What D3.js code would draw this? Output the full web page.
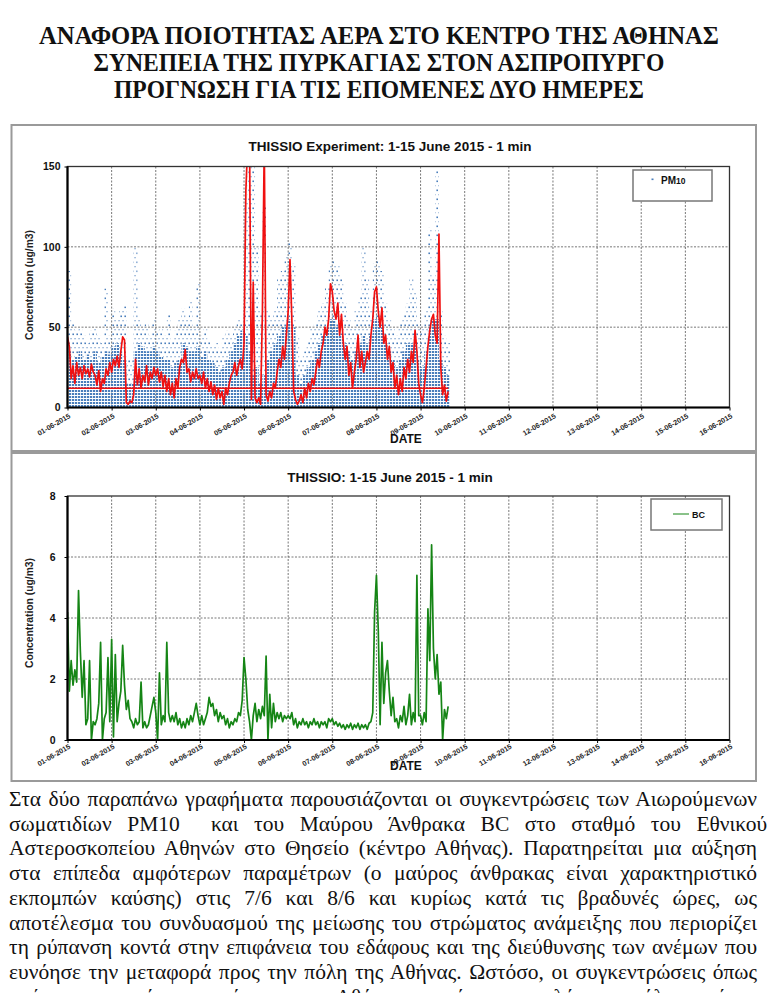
<!DOCTYPE html>
<html><head><meta charset="utf-8">
<script src="https://cdn.jsdelivr.net/npm/d3@7"></script>
<style>
body{margin:0;background:#fff}svg{display:block}
</style>
</head><body><svg id="c" width="770" height="993"></svg>
<script>
// ---------------- DATA ----------------
const titleLines = [
  "ΑΝΑΦΟΡΑ ΠΟΙΟΤΗΤΑΣ ΑΕΡΑ ΣΤΟ ΚΕΝΤΡΟ ΤΗΣ ΑΘΗΝΑΣ",
  "ΣΥΝΕΠΕΙΑ ΤΗΣ ΠΥΡΚΑΓΙΑΣ ΣΤΟΝ ΑΣΠΡΟΠΥΡΓΟ",
  "ΠΡΟΓΝΩΣΗ ΓΙΑ ΤΙΣ ΕΠΟΜΕΝΕΣ ΔΥΟ ΗΜΕΡΕΣ"
];
const paragraphLines = [
  "Στα δύο παραπάνω γραφήματα παρουσιάζονται οι συγκεντρώσεις των Αιωρούμενων",
  "σωματιδίων PM10\u00a0 και του Μαύρου Άνθρακα BC στο σταθμό του Εθνικού",
  "Αστεροσκοπείου Αθηνών στο Θησείο (κέντρο Αθήνας). Παρατηρείται μια αύξηση",
  "στα επίπεδα αμφότερων παραμέτρων (ο μαύρος άνθρακας είναι χαρακτηριστικό",
  "εκπομπών καύσης) στις 7/6 και 8/6 και κυρίως κατά τις βραδυνές ώρες, ως",
  "αποτέλεσμα του συνδυασμού της μείωσης του στρώματος ανάμειξης που περιορίζει",
  "τη ρύπανση κοντά στην επιφάνεια του εδάφους και της διεύθυνσης των ανέμων που",
  "ευνόησε την μεταφορά προς την πόλη της Αθήνας. Ωστόσο, οι συγκεντρώσεις όπως",
  "φαίνεται και από τα γραφήματα στην Αθήνα παραμένουν χαμηλά στις υπόλοιπες ώρες"
];
const chartTitles = ["THISSIO Experiment: 1-15 June 2015 - 1 min", "THISSIO: 1-15 June 2015 - 1 min"];
const yAxisTitle = "Concentration (ug/m3)";
const xAxisTitle = "DATE";
const dateLabels = ["01-06-2015","02-06-2015","03-06-2015","04-06-2015","05-06-2015","06-06-2015","07-06-2015","08-06-2015",
                    "09-06-2015","10-06-2015","11-06-2015","12-06-2015","13-06-2015","14-06-2015","15-06-2015","16-06-2015"];
const pm10Ticks = [0, 50, 100, 150];
const bcTicks = [0, 2, 4, 6, 8];

// PM10 smoothed (red), hourly from 01-06-2015 00:00
const pm10Smooth = [
  44,38,18,26,15,28,20,25,18,26,21,24,19,27,22,20,14,23,10,18,15,24,20,28,
  22,30,26,32,25,35,44,42,3,2,4,3,8,30,14,24,12,20,16,26,14,22,18,25,
  20,24,16,22,13,20,10,18,8,15,6,18,12,25,30,28,36,22,24,16,22,18,24,18,
  20,15,22,12,18,10,16,8,14,5,12,6,10,2,12,8,15,20,22,28,20,26,30,24,
  40,135,165,165,5,78,6,3,6,2,60,165,8,4,10,6,15,12,22,30,25,38,30,45,
  60,92,55,10,5,2,4,8,3,12,6,15,10,18,14,22,30,25,35,40,50,45,55,77,
  72,60,55,65,45,58,40,30,38,20,28,12,22,30,45,25,35,22,28,35,30,45,55,72,
  75,60,50,62,40,45,30,38,22,28,12,20,8,18,10,25,18,30,22,35,28,48,35,15,
  8,3,12,25,38,48,55,58,45,40,108,25,8,14,4,10
];
// PM10 1-min points (blue): per 2-hour bin, top of the dense cloud and highest scattered point
const pm10DenseTop = [
  35,30,32,35,30,33,30,35,28,32,35,33,
  38,40,35,30,15,15,35,40,38,35,35,38,
  35,32,30,30,25,28,30,40,38,35,35,38,
  32,35,30,28,25,22,25,30,35,40,45,48,
  45,35,20,25,15,20,30,35,40,45,50,50,
  55,50,20,15,20,25,30,35,40,45,50,55,
  55,50,45,40,35,30,35,40,45,40,45,55,
  55,50,40,35,30,25,30,35,40,40,45,30,
  25,35,50,55,55,30,25,20
];
const pm10MaxTop = [
  85,52,48,50,45,40,48,50,45,40,74,45,
  62,55,60,63,30,30,100,55,50,52,45,55,
  48,50,45,58,42,48,55,62,55,67,50,77,
  45,50,42,38,40,35,45,48,45,50,55,52,
  130,160,150,100,60,125,60,55,60,80,85,95,
  103,90,45,30,35,42,50,52,60,65,75,90,
  92,88,80,65,55,50,60,70,100,80,60,90,
  92,85,65,55,50,45,52,58,65,80,72,52,
  50,60,112,80,148,60,45,40
];
const pm10Reference = 12;
// BC (green), hourly
const bcHourly = [
  4.2,1.6,2.6,1.8,2.3,1.9,4.9,2.9,1.4,2.6,0.5,0.7,2.6,0.0,0.6,0.5,0.7,1.2,3.2,0.0,0.7,0.9,2.7,0.6,
  3.3,0.1,2.8,0.6,1.2,1.6,3.1,1.8,1.0,1.3,0.7,0.6,0.4,0.7,0.5,0.6,1.9,0.4,0.6,0.4,0.5,0.8,1.1,1.4,
  0.9,0.0,2.2,0.5,0.8,0.6,3.2,0.9,0.6,0.8,0.6,0.9,0.5,0.7,0.4,0.6,0.4,0.7,0.5,0.8,0.6,0.9,1.2,0.8,
  0.5,0.8,0.5,0.7,0.9,1.4,1.1,1.2,0.8,1.0,0.6,0.9,0.7,0.8,0.5,0.7,0.4,0.6,0.5,0.7,0.6,0.9,0.8,1.3,
  2.7,2.0,1.0,0.6,0.0,0.8,1.2,0.6,1.0,0.7,1.1,0.8,2.75,0.0,1.5,0.4,1.2,0.6,0.9,0.7,0.9,0.6,0.8,0.7,
  0.8,0.7,0.9,0.5,0.7,0.4,0.6,0.5,0.7,0.5,0.6,0.4,0.6,0.5,0.7,0.5,0.6,0.4,0.6,0.5,0.6,0.4,0.7,0.6,
  0.7,0.5,0.6,0.45,0.55,0.4,0.5,0.35,0.5,0.4,0.55,0.35,0.5,0.4,0.55,0.35,0.5,0.4,0.5,0.35,0.55,0.6,0.9,4.2,
  5.4,3.6,0.5,3.2,1.2,2.2,2.6,1.6,0.8,1.4,0.6,0.7,0.4,0.8,0.6,1.1,0.5,0.8,1.5,0.5,0.9,0.6,5.4,0.8,
  0.8,0.5,0.9,0.6,4.3,2.6,6.4,3.0,2.0,2.8,1.5,1.9,0.0,1.0,0.7,1.1
];

// ---------------- DRAWING ----------------
const svg = d3.select("#c");
const SERIF = '"Liberation Serif"';
const SANS = '"Liberation Sans"';
const BLUE = "#4a7ebb", RED = "#f01010", GREEN = "#158515";

const hourTime = i => new Date(2015, 5, 1, i);
const binTime = i => new Date(2015, 5, 1, i * 2);
const dayDates = dateLabels.map((s, i) => new Date(2015, 5, 1 + i));
const x = d3.scaleTime().domain([dayDates[0], dayDates[15]]).range([67.5, 729.5]);

const defs = svg.append("defs");
const pd = defs.append("pattern").attr("id", "blueDense").attr("patternUnits", "userSpaceOnUse").attr("width", 3).attr("height", 3);
pd.append("rect").attr("width", 2.2).attr("height", 2.0).attr("fill", BLUE);
const ps = defs.append("pattern").attr("id", "blueSparse").attr("patternUnits", "userSpaceOnUse").attr("width", 4).attr("height", 9);
ps.append("rect").attr("x", 0.4).attr("y", 0.5).attr("width", 1.6).attr("height", 1.6).attr("fill", BLUE);
ps.append("rect").attr("x", 2.4).attr("y", 5).attr("width", 1.3).attr("height", 1.3).attr("fill", BLUE).attr("opacity", 0.7);

// title
titleLines.forEach((t, i) => {
  const widths = [680, 571, 530];
  svg.append("text").style("font-family", SERIF).attr("x", 379).attr("y", 44 + i * 27).attr("text-anchor", "middle")
    .attr("font-weight", "bold").attr("font-size", 25.5)
    .attr("textLength", widths[i]).attr("lengthAdjust", "spacingAndGlyphs").attr("fill", "#111").text(t);
});

// outer panels
svg.append("rect").attr("x", 11.5).attr("y", 125).attr("width", 744.5).attr("height", 326).attr("fill", "none").attr("stroke", "#9a9a9a").attr("stroke-width", 2);
svg.append("rect").attr("x", 11.5).attr("y", 453).attr("width", 744.5).attr("height", 328).attr("fill", "none").attr("stroke", "#9a9a9a").attr("stroke-width", 2);

function drawChart(cfg) {
  const g = svg.append("g").style("font-family", SANS);
  const y = d3.scaleLinear().domain(cfg.domain).range([cfg.bottom, cfg.top]);
  const clipId = "clip" + cfg.id;
  defs.append("clipPath").attr("id", clipId).append("rect")
    .attr("x", x.range()[0]).attr("y", cfg.top).attr("width", x.range()[1] - x.range()[0]).attr("height", cfg.bottom - cfg.top);

  // grid
  g.append("g").selectAll("line").data(dayDates.slice(1, 15)).join("line")
    .attr("x1", d => x(d)).attr("x2", d => x(d)).attr("y1", cfg.top).attr("y2", cfg.bottom)
    .attr("stroke", "#555").attr("stroke-width", 0.8).attr("stroke-dasharray", "2,1.5");
  g.append("g").selectAll("line").data(cfg.ticks.slice(1, -1)).join("line")
    .attr("x1", x.range()[0]).attr("x2", x.range()[1]).attr("y1", d => y(d)).attr("y2", d => y(d))
    .attr("stroke", "#555").attr("stroke-width", 0.8).attr("stroke-dasharray", "2,1.5");

  // data
  const dg = g.append("g").attr("clip-path", `url(#${clipId})`);
  cfg.draw(dg, y);

  // frame
  g.append("rect").attr("x", x.range()[0]).attr("y", cfg.top).attr("width", x.range()[1] - x.range()[0]).attr("height", cfg.bottom - cfg.top)
    .attr("fill", "none").attr("stroke", "#333").attr("stroke-width", 1.3);
  g.append("line").attr("x1", x.range()[0]).attr("x2", x.range()[0]).attr("y1", cfg.top).attr("y2", cfg.bottom + 1).attr("stroke", "#000").attr("stroke-width", 2.2);
  g.append("line").attr("x1", x.range()[0]).attr("x2", x.range()[1]).attr("y1", cfg.bottom).attr("y2", cfg.bottom).attr("stroke", "#000").attr("stroke-width", 2.2);

  // axes
  const ya = g.append("g").attr("transform", `translate(${x.range()[0]},0)`)
    .call(d3.axisLeft(y).tickValues(cfg.ticks).tickSize(3).tickPadding(cfg.yPad));
  ya.select(".domain").remove();
  ya.attr("font-family", null);
  ya.selectAll("text").attr("font-weight", "bold").attr("font-size", 10.5).attr("fill", "#111");
  const xa = g.append("g").attr("transform", `translate(0,${cfg.bottom})`)
    .call(d3.axisBottom(x).tickValues(dayDates).tickSize(3).tickFormat((d, i) => dateLabels[i]));
  xa.select(".domain").remove();
  xa.attr("font-family", null);
  xa.selectAll("text").attr("x", 0).attr("y", 0).attr("dy", null).attr("text-anchor", "end")
    .attr("transform", `translate(3,${cfg.labOff}) rotate(-30)`)
    .attr("font-weight", "bold").attr("font-size", 7.2).attr("fill", "#222");

  // titles
  g.append("text").attr("x", 390).attr("y", cfg.titleY).attr("text-anchor", "middle")
    .attr("font-weight", "bold").attr("font-size", 13.5).attr("fill", "#111").text(cfg.title);
  g.append("text").attr("transform", `translate(33,${cfg.yLabelY}) rotate(-90)`).attr("text-anchor", "middle")
    .attr("font-size", 10).attr("font-weight", "bold").attr("fill", "#222")
    .attr("textLength", 110).attr("lengthAdjust", "spacingAndGlyphs").text(yAxisTitle);
  g.append("text").attr("x", 390).attr("y", cfg.dateY)
    .attr("font-weight", "bold").attr("font-size", 12).attr("fill", "#111").text(xAxisTitle);

  // legend
  const L = cfg.legend;
  g.append("rect").attr("x", L.x).attr("y", L.y).attr("width", L.w).attr("height", L.h)
    .attr("fill", "#fff").attr("stroke", "#777").attr("stroke-width", 1.5);
  L.draw(g);
}

drawChart({
  id: "pm", domain: [0, 150], ticks: pm10Ticks, top: 166.5, bottom: 407.5, yPad: 4, labOff: 10,
  title: chartTitles[0], titleY: 151, yLabelY: 285, dateY: 443,
  legend: { x: 633, y: 170, w: 79, h: 31, draw: g => {
    g.append("rect").attr("x", 651.5).attr("y", 178.5).attr("width", 2).attr("height", 1.6).attr("fill", BLUE);
    const t = g.append("text").attr("x", 661).attr("y", 184).attr("font-weight", "bold").attr("font-size", 10).attr("fill", "#111");
    t.append("tspan").text("PM");
    t.append("tspan").attr("font-size", 8.5).text("10");
  }},
  draw: (dg, y) => {
    const dense = pm10DenseTop.map((v, i) => ({ t: binTime(i), v }));
    dense.push({ t: binTime(pm10DenseTop.length), v: pm10DenseTop[pm10DenseTop.length - 1] });
    const sparse = pm10MaxTop.map((v, i) => ({ t: binTime(i), lo: pm10DenseTop[i], v }));
    sparse.push({ t: binTime(pm10MaxTop.length), lo: pm10DenseTop[pm10DenseTop.length - 1], v: pm10MaxTop[pm10MaxTop.length - 1] });
    dg.append("path").datum(sparse).attr("fill", "url(#blueSparse)")
      .attr("d", d3.area().x(d => x(d.t)).y0(d => y(d.lo)).y1(d => y(d.v)).curve(d3.curveStepAfter));
    dg.append("path").datum(dense).attr("fill", "url(#blueDense)")
      .attr("d", d3.area().x(d => x(d.t)).y0(y(0)).y1(d => y(d.v)).curve(d3.curveStepAfter));
    dg.append("path").datum(pm10Smooth).attr("fill", "none").attr("stroke", RED).attr("stroke-width", 1.7)
      .attr("stroke-linejoin", "round")
      .attr("d", d3.line().x((d, i) => x(hourTime(i))).y(d => y(d)));
    dg.append("line").attr("x1", x(hourTime(0))).attr("x2", x(hourTime(pm10Smooth.length - 1)))
      .attr("y1", y(pm10Reference)).attr("y2", y(pm10Reference)).attr("stroke", RED).attr("stroke-width", 1.4);
  }
});

drawChart({
  id: "bc", domain: [0, 8], ticks: bcTicks, top: 496, bottom: 740, yPad: 9, labOff: 8,
  title: chartTitles[1], titleY: 482, yLabelY: 613, dateY: 770,
  legend: { x: 651, y: 499, w: 71, h: 31, draw: g => {
    g.append("line").attr("x1", 673).attr("x2", 689).attr("y1", 514).attr("y2", 514).attr("stroke", GREEN).attr("stroke-width", 1);
    g.append("text").attr("x", 692).attr("y", 518).attr("font-weight", "bold").attr("font-size", 9).attr("fill", "#111").text("BC");
  }},
  draw: (dg, y) => {
    dg.append("path").datum(bcHourly).attr("fill", "none").attr("stroke", GREEN).attr("stroke-width", 1.7)
      .attr("stroke-linejoin", "round")
      .attr("d", d3.line().x((d, i) => x(hourTime(i))).y(d => y(d)));
  }
});

// paragraph (justified)
const pg = svg.append("g").style("font-family", SERIF).attr("font-size", 21.5).attr("fill", "#111");
paragraphLines.forEach((line, i) => {
  const t = pg.append("text").attr("x", 9).attr("y", 806 + i * 24.7).text(line);
  const w = t.node().getComputedTextLength();
  const n = (line.match(/ /g) || []).length;
  const target = 748;
  const ws = (target - w) / n;
  if (ws < 0) {
    t.attr("textLength", target).attr("lengthAdjust", "spacingAndGlyphs");
  } else {
    t.attr("word-spacing", ws.toFixed(2));
  }
});
</script></body></html>
